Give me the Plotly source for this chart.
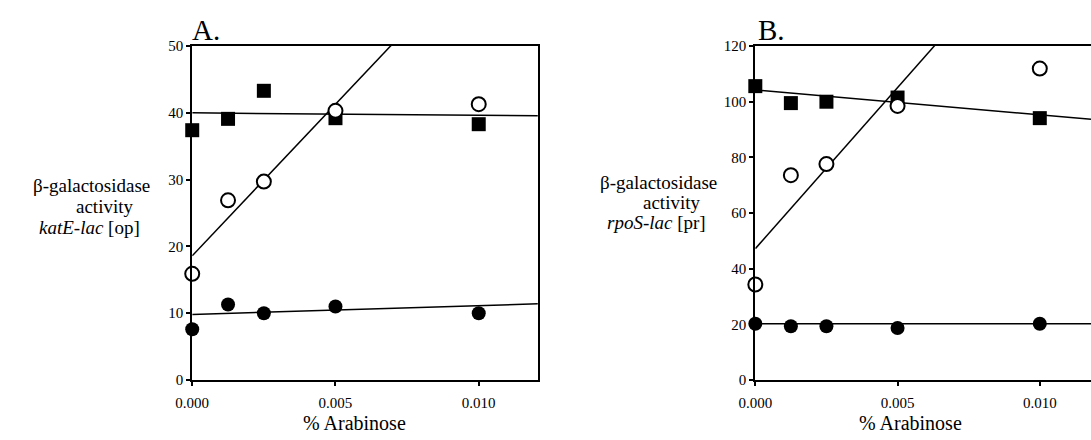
import plotly.graph_objects as go

# ---------------- data ----------------
arabinose = [0.0, 0.00125, 0.0025, 0.005, 0.010]

# Panel A: katE-lac [op]
a_squares = [37.4, 39.1, 43.3, 39.2, 38.3]
a_open = [15.9, 26.9, 29.7, 40.3, 41.3]
a_filled = [7.6, 11.3, 10.0, 11.0, 10.0]
# fitted lines (end points)
a_line_x = [0.0, 0.0121]
a_sq_line = [40.0, 39.55]
a_open_line = [18.6, 73.5]
a_filled_line = [9.8, 11.4]

# Panel B: rpoS-lac [pr]
b_squares = [105.6, 99.5, 100.0, 101.5, 94.1]
b_open = [34.3, 73.6, 77.6, 98.5, 111.9]
b_filled = [20.2, 19.3, 19.3, 18.7, 20.2]
b_line_x = [0.0, 0.0118]
b_sq_line = [104.2, 93.7]
b_open_line = [47.2, 183.8]
b_filled_line = [20.2, 20.2]

x_ticks = [0.0, 0.005, 0.010]
x_ticklabels = ["0.000", "0.005", "0.010"]
a_yticks = [0, 10, 20, 30, 40, 50]
b_yticks = [0, 20, 40, 60, 80, 100, 120]

FONT = '"Liberation Serif", "Times New Roman", "DejaVu Serif", serif'
W, H = 1091, 440

fig = go.Figure()


def add_panel(xa, ya, sq, op, fi, lx, sql, opl, fil):
    for ly in (sql, opl, fil):
        fig.add_trace(go.Scatter(x=lx, y=ly, mode="lines", xaxis=xa, yaxis=ya,
                                 line=dict(color="black", width=1.5),
                                 showlegend=False, hoverinfo="skip"))
    fig.add_trace(go.Scatter(x=arabinose, y=sq, mode="markers", xaxis=xa, yaxis=ya,
                             marker=dict(symbol="square", size=14, color="black"),
                             cliponaxis=False, showlegend=False))
    fig.add_trace(go.Scatter(x=arabinose, y=fi, mode="markers", xaxis=xa, yaxis=ya,
                             marker=dict(symbol="circle", size=14, color="black"),
                             cliponaxis=False, showlegend=False))
    fig.add_trace(go.Scatter(x=arabinose, y=op, mode="markers", xaxis=xa, yaxis=ya,
                             marker=dict(symbol="circle", size=14, color="white",
                                         line=dict(color="black", width=2)),
                             cliponaxis=False, showlegend=False))


add_panel("x", "y", a_squares, a_open, a_filled, a_line_x, a_sq_line, a_open_line, a_filled_line)
add_panel("x2", "y2", b_squares, b_open, b_filled, b_line_x, b_sq_line, b_open_line, b_filled_line)

ydom = [1 - 386 / H, 1 - 39.5 / H]
axis_common = dict(showgrid=False, zeroline=False, showline=True, linecolor="black",
                   linewidth=2, ticks="outside", ticklen=4, tickwidth=1.5,
                   tickcolor="black", tickfont=dict(family=FONT, size=15, color="black"))

fig.update_layout(
    width=W, height=H, margin=dict(l=0, r=0, t=0, b=0),
    plot_bgcolor="white", paper_bgcolor="white",
    font=dict(family=FONT, color="black"),
    xaxis=dict(domain=[178 / W, 529 / W], range=[0, 0.01206], tickvals=x_ticks,
               ticktext=x_ticklabels, mirror=True, anchor="y", ticklabelstandoff=4,
               **axis_common),
    yaxis=dict(domain=ydom, range=[0, 50], tickvals=a_yticks, mirror=True,
               anchor="x", **axis_common),
    xaxis2=dict(domain=[750 / W, 1.0], range=[0, 0.0118], tickvals=x_ticks,
                ticktext=x_ticklabels, mirror=True, anchor="y2", ticklabelstandoff=4,
                **axis_common),
    yaxis2=dict(domain=ydom, range=[0, 120], tickvals=b_yticks, mirror=False,
                anchor="x2", **axis_common),
)


def ann(text, xpx, ypx, size, xanchor="center"):
    fig.add_annotation(text=text, x=xpx / W, y=1 - ypx / H, xref="paper", yref="paper",
                       xanchor=xanchor, yanchor="middle", showarrow=False,
                       font=dict(family=FONT, size=size, color="black"))


# panel letters
ann("A.", 176, 23, 29, "left")
ann("B.", 751, 23, 29, "left")

# y labels
ann("β-galactosidase", 76, 184, 19)
ann("activity", 89, 206, 19)
ann("<i>katE-lac</i> [op]", 74, 228, 19)
ann("β-galactosidase", 652, 181, 19)
ann("activity", 665, 202, 19)
ann("<i>rpoS-lac</i> [pr]", 650, 223, 19)

# x titles
ann("% Arabinose", 343, 431, 20)
ann("% Arabinose", 908, 431, 20)

fig.write_html("out.html")
